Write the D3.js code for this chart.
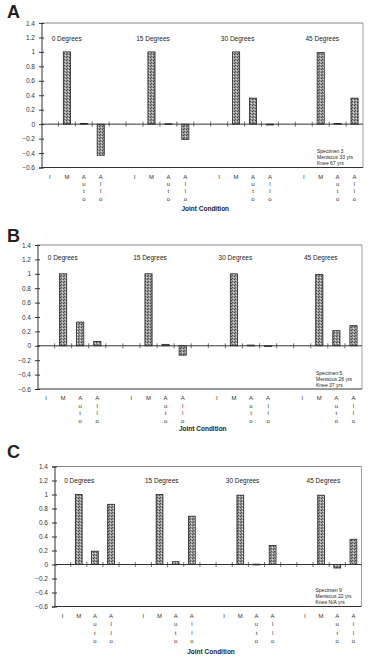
<!DOCTYPE html>
<html>
<head>
<meta charset="utf-8">
<script src="https://cdn.jsdelivr.net/npm/d3@7"></script>
<style>
  body { margin: 0; background: #fff; }
  svg { display: block; font-family: "Liberation Sans", Arial, sans-serif; }
</style>
</head>
<body>
<div id="chart"></div>
<script>
// chart data
const groups = ["0 Degrees", "15 Degrees", "30 Degrees", "45 Degrees"];
const conditions = ["I", "M", "Auto", "Allo"];
const yTicks = [1.4, 1.2, 1, 0.8, 0.6, 0.4, 0.2, 0, -0.2, -0.4, -0.6];

// values per group, in order I, M, Auto, Allo
const valuesA = [
  [0, 1.0, 0.01, -0.43],
  [0, 1.0, 0.005, -0.21],
  [0, 1.0, 0.36, -0.01],
  [0, 0.99, 0.01, 0.36]
];
const valuesB = [
  [0, 1.0, 0.33, 0.06],
  [0, 1.0, 0.02, -0.13],
  [0, 1.0, 0.01, -0.005],
  [0, 0.99, 0.21, 0.28]
];
const valuesC = [
  [0, 1.0, 0.19, 0.86],
  [0, 1.0, 0.04, 0.69],
  [0, 0.99, 0.005, 0.27],
  [0, 0.99, -0.05, 0.36]
];
const notesA = ["Specimen 3", "Meniscus 33 yrs", "Knee 67 yrs"];
const notesB = ["Specimen 5", "Meniscus 26 yrs", "Knee 37 yrs"];
const notesC = ["Specimen 9", "Meniscus 22 yrs", "Knee N/A yrs"];

// panel layout
const panels = [
  {letter: "A", values: valuesA, notes: notesA, left: 41.5, top: 23, right: 363, bottom: 167.5, letterY: 18, rowGap: 7.4, titleOff: 41.5, groupY: 1.18},
  {letter: "B", values: valuesB, notes: notesB, left: 37.5, top: 245, right: 362, bottom: 389, letterY: 242, rowGap: 7.6, titleOff: 40, groupY: 1.22},
  {letter: "C", values: valuesC, notes: notesC, left: 54.5, top: 466.5, right: 361.5, bottom: 606.5, letterY: 458, rowGap: 8.6, titleOff: 45.5, groupY: 1.19}
];

const width = 377, height = 664;
const svg = d3.select("#chart").append("svg")
  .attr("width", width)
  .attr("height", height);

// stippled bar fill
const pat = svg.append("defs").append("pattern")
  .attr("id", "stipple")
  .attr("width", 3).attr("height", 3)
  .attr("patternUnits", "userSpaceOnUse");
pat.append("rect").attr("width", 3).attr("height", 3).attr("fill", "#9a9a9a");
pat.append("rect").attr("x", 0).attr("y", 0).attr("width", 1).attr("height", 1).attr("fill", "#444");
pat.append("rect").attr("x", 2).attr("y", 1).attr("width", 1).attr("height", 1).attr("fill", "#ddd");
pat.append("rect").attr("x", 1).attr("y", 2).attr("width", 1).attr("height", 1).attr("fill", "#555");

// slot keys: 4 conditions per group, one empty slot between groups
const slots = [];
groups.forEach((g, gi) => {
  conditions.forEach(c => slots.push(g + "|" + c));
  if (gi < groups.length - 1) slots.push(g + "|gap");
});

panels.forEach(p => {
  const g = svg.append("g");

  const x = d3.scaleBand().domain(slots).range([p.left, p.right]).padding(0);
  const y = d3.scaleLinear().domain([-0.6, 1.4]).range([p.bottom, p.top]);
  const bw = x.bandwidth();

  // panel letter
  g.append("text")
    .attr("x", 7).attr("y", p.letterY)
    .attr("font-size", 18).attr("font-weight", 600)
    .attr("fill", "#222")
    .text(p.letter);

  // frame
  g.append("line").attr("x1", p.left).attr("x2", p.right).attr("y1", p.top).attr("y2", p.top)
    .attr("stroke", "#777").attr("stroke-width", 0.9);
  g.append("line").attr("x1", p.right).attr("x2", p.right).attr("y1", p.top).attr("y2", p.bottom)
    .attr("stroke", "#999").attr("stroke-width", 0.9);
  g.append("line").attr("x1", p.left).attr("x2", p.right).attr("y1", p.bottom).attr("y2", p.bottom)
    .attr("stroke", "#333").attr("stroke-width", 1);

  // y axis
  const yAxis = g.append("g")
    .attr("transform", `translate(${p.left},0)`)
    .call(d3.axisLeft(y).tickValues(yTicks).tickSize(2.5).tickPadding(4)
      .tickFormat(d => d3.format("")(+d.toFixed(1))));
  yAxis.select(".domain").attr("stroke", "#333");
  yAxis.selectAll(".tick line").attr("x2", 2.5).attr("x1", -2.5).attr("stroke", "#333");
  yAxis.selectAll(".tick text").attr("font-size", 6.5).attr("fill", "#333")
    .attr("font-family", "Liberation Sans, Arial, sans-serif");

  // bars
  const rows = [];
  groups.forEach((grp, gi) => conditions.forEach((c, ci) => {
    rows.push({key: grp + "|" + c, cond: c, value: p.values[gi][ci]});
  }));

  g.selectAll("rect.bar")
    .data(rows.filter(d => Math.abs(d.value) > 0.0001))
    .enter().append("rect")
    .attr("class", "bar")
    .attr("x", d => x(d.key) + bw * 0.29)
    .attr("width", bw * 0.42)
    .attr("y", d => y(Math.max(0, d.value)))
    .attr("height", d => Math.max(0.8, Math.abs(y(d.value) - y(0))))
    .attr("fill", "url(#stipple)")
    .attr("stroke", "#222")
    .attr("stroke-width", 0.8);

  // zero line with slot ticks
  g.append("line").attr("x1", p.left).attr("x2", p.right).attr("y1", y(0)).attr("y2", y(0))
    .attr("stroke", "#333").attr("stroke-width", 1);
  g.selectAll("line.slot")
    .data(slots.slice(1))
    .enter().append("line")
    .attr("class", "slot")
    .attr("x1", d => x(d)).attr("x2", d => x(d))
    .attr("y1", y(0) - 2.5).attr("y2", y(0) + 2.5)
    .attr("stroke", "#333").attr("stroke-width", 0.7);

  // group titles
  g.selectAll("text.grp")
    .data(groups)
    .enter().append("text")
    .attr("class", "grp")
    .attr("x", d => x(d + "|I") + bw * 0.6)
    .attr("y", y(p.groupY))
    .attr("dy", "0.35em")
    .attr("font-size", 6.5)
    .attr("fill", "#222")
    .text(d => d);

  // x category labels, letters stacked vertically
  const lab = g.selectAll("text.cat")
    .data(rows)
    .enter().append("text")
    .attr("class", "cat")
    .attr("text-anchor", "middle")
    .attr("font-size", 6)
    .attr("fill", "#333");
  lab.each(function(d) {
    const t = d3.select(this);
    d.cond.split("").forEach((ch, i) => {
      t.append("tspan")
        .attr("x", x(d.key) + bw / 2)
        .attr("y", p.bottom + 11 + i * p.rowGap)
        .text(ch.toLowerCase() === ch && i > 0 ? ch : ch);
    });
  });

  // axis title
  g.append("text")
    .attr("x", (p.left + p.right) / 2 + 3)
    .attr("y", p.bottom + p.titleOff)
    .attr("dy", "0.35em")
    .attr("text-anchor", "middle")
    .attr("font-size", 6.5)
    .attr("font-weight", 700)
    .attr("fill", "#222")
    .text("Joint Condition");

  // specimen note
  g.selectAll("text.note")
    .data(p.notes)
    .enter().append("text")
    .attr("class", "note")
    .attr("x", p.right - 46)
    .attr("y", (d, i) => p.bottom - 16 + i * 6)
    .attr("dy", "0.35em")
    .attr("font-size", 5)
    .attr("fill", "#222")
    .text(d => d);
});
</script>
</body>
</html>
